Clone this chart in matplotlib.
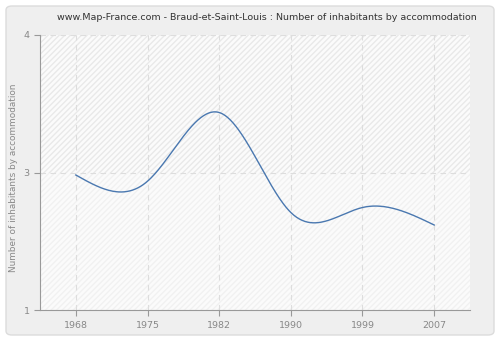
import numpy as np
import matplotlib
matplotlib.use('Agg')
import matplotlib.pyplot as plt
from matplotlib.patches import FancyBboxPatch

# data
years = ['1968', '1975', '1982', '1990', '1999', '2007']
inhabitants = [2.48, 2.43, 2.98, 2.18, 2.22, 2.08]
ytick_vals = [1.4, 2.5, 3.6]
ytick_labels = ['1', '3', '4']

title = 'www.Map-France.com - Braud-et-Saint-Louis : Number of inhabitants by accommodation'
ylabel = 'Number of inhabitants by accommodation'


def natural_spline(x, y, xs):
    # simple natural cubic spline for the smooth curve
    x = np.asarray(x, float)
    y = np.asarray(y, float)
    n = len(x)
    h = np.diff(x)
    A = np.zeros((n, n))
    r = np.zeros(n)
    A[0, 0] = A[-1, -1] = 1
    for i in range(1, n - 1):
        A[i, i - 1] = h[i - 1]
        A[i, i] = 2 * (h[i - 1] + h[i])
        A[i, i + 1] = h[i]
        r[i] = 3 * ((y[i + 1] - y[i]) / h[i] - (y[i] - y[i - 1]) / h[i - 1])
    c = np.linalg.solve(A, r)
    b = (y[1:] - y[:-1]) / h - h * (2 * c[:-1] + c[1:]) / 3
    d = (c[1:] - c[:-1]) / (3 * h)
    idx = np.clip(np.searchsorted(x, xs) - 1, 0, n - 2)
    dx = xs - x[idx]
    return y[idx] + b[idx] * dx + c[idx] * dx ** 2 + d[idx] * dx ** 3


fig = plt.figure(figsize=(5, 3.4), dpi=100)
fig.patch.set_facecolor('white')

# rounded grey panel behind everything
panel = FancyBboxPatch((6 / 500, 5 / 340), 488 / 500, 329 / 340,
                       boxstyle='round,pad=0,rounding_size=0.012',
                       transform=fig.transFigure, facecolor='#efefef',
                       edgecolor='#dcdcdc', linewidth=1, zorder=-5)
fig.patches.append(panel)

ax = fig.add_axes([40 / 500, 30 / 340, 430 / 500, 275 / 340])
ax.set_zorder(2)
ax.set_facecolor('#fbfbfb')

# years are spaced as categories
pos = np.arange(len(years))
ax.set_xlim(-0.5, len(years) - 0.5)
ax.set_ylim(1.4, 3.6)

# hatched background
ax.axhspan(2.5, 3.6, facecolor='none', hatch='//////', edgecolor='#e9e9e9', linewidth=0, zorder=0)
ax.axhspan(1.4, 2.5, facecolor='none', hatch='//////', edgecolor='#f1f1f1', linewidth=0, zorder=0)

xs = np.linspace(pos[0], pos[-1], 400)
ax.plot(xs, natural_spline(pos, inhabitants, xs), color='#4a78b0', linewidth=1, zorder=3)

ax.set_xticks(pos)
ax.set_xticklabels(years)
ax.set_yticks(ytick_vals)
ax.set_yticklabels(ytick_labels)
ax.grid(True, color='#dddddd', linestyle=(0, (5, 4)), linewidth=0.8, zorder=1)
ax.set_axisbelow(True)

for s in ['top', 'right']:
    ax.spines[s].set_visible(False)
for s in ['left', 'bottom']:
    ax.spines[s].set_color('#999999')
ax.tick_params(colors='#999999', labelcolor='#888888', labelsize=6.8, length=4, width=0.8)
ax.tick_params(axis='x', pad=4)

ax.set_ylabel(ylabel, color='#888888', fontsize=6.4)
ax.yaxis.set_label_coords(-0.05, 0.48)
fig.text(267 / 500, 1 - 18 / 340, title, ha='center', va='center', fontsize=6.8, color='#333333')

fig.savefig('out.png', dpi=100)
